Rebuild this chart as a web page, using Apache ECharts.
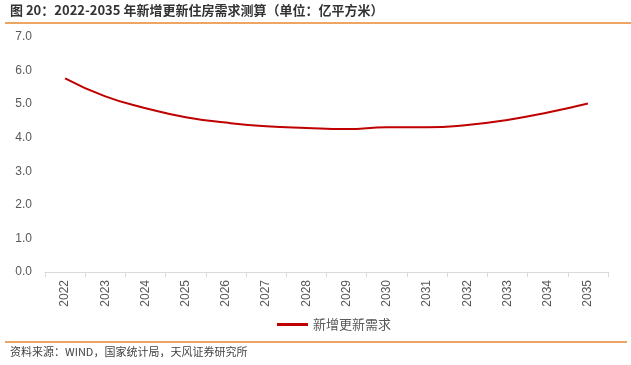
<!DOCTYPE html>
<html><head><meta charset="utf-8">
<script src="https://cdn.jsdelivr.net/npm/echarts@6/dist/echarts.min.js"></script>
<style>html,body{margin:0;padding:0;background:#fff}#c{width:631px;height:365px}</style>
</head><body><div id="c"></div>
<script>
const years = ['2022','2023','2024','2025','2026','2027','2028','2029','2030','2031','2032','2033','2034','2035'];
const demand = [5.77, 5.23, 4.88, 4.61, 4.45, 4.34, 4.29, 4.26, 4.31, 4.31, 4.38, 4.53, 4.75, 5.02];
const seriesName = '新增更新需求';
const titleText = '图 20：2022-2035 年新增更新住房需求测算（单位：亿平方米）';
const sourceText = '资料来源：WIND，国家统计局，天风证券研究所';

const chart = echarts.init(document.getElementById('c'), null, {renderer:'canvas'});
const font = '"Microsoft YaHei","Noto Sans CJK SC",sans-serif';
chart.setOption({
  animation:false,
  textStyle:{fontFamily:font},
  grid:{left:45,right:23,top:37,bottom:93},
  legend:{data:[{name:seriesName,icon:'rect'}],left:272,top:313,itemWidth:31,itemHeight:3,
    textStyle:{color:'#595959',fontSize:13,fontFamily:font},itemGap:4},
  xAxis:{type:'category',data:years,boundaryGap:true,
    axisLine:{lineStyle:{color:'#d9d9d9',width:1}},
    axisTick:{show:true,alignWithLabel:false,length:5,lineStyle:{color:'#d9d9d9'}},
    axisLabel:{rotate:90,color:'#595959',fontSize:12,margin:8,fontFamily:'Arial, "Liberation Sans", sans-serif'}},
  yAxis:{type:'value',min:0,max:7,interval:1,
    axisLine:{show:false},axisTick:{show:false},splitLine:{show:false},
    axisLabel:{color:'#595959',fontSize:12,margin:13,formatter:v=>v.toFixed(1),fontFamily:'Arial, "Liberation Sans", sans-serif'}},
  series:[{name:seriesName,type:'line',data:demand,smooth:0.5,symbol:'none',
    lineStyle:{color:'#c00000',width:2},itemStyle:{color:'#c00000'}}],
  graphic:[
    {type:'text',left:10,top:4,style:{text:titleText,fill:'#333',font:'bold 13px '+font}},
    {type:'line',shape:{x1:5,y1:23,x2:631,y2:23},style:{stroke:'#e8862e',lineWidth:1.5}},
    {type:'line',shape:{x1:5,y1:342,x2:627,y2:342},style:{stroke:'#e8862e',lineWidth:1.5}},
    {type:'text',left:10,top:346,style:{text:sourceText,fill:'#444',font:'11px '+font}}
  ]
});
</script></body></html>
